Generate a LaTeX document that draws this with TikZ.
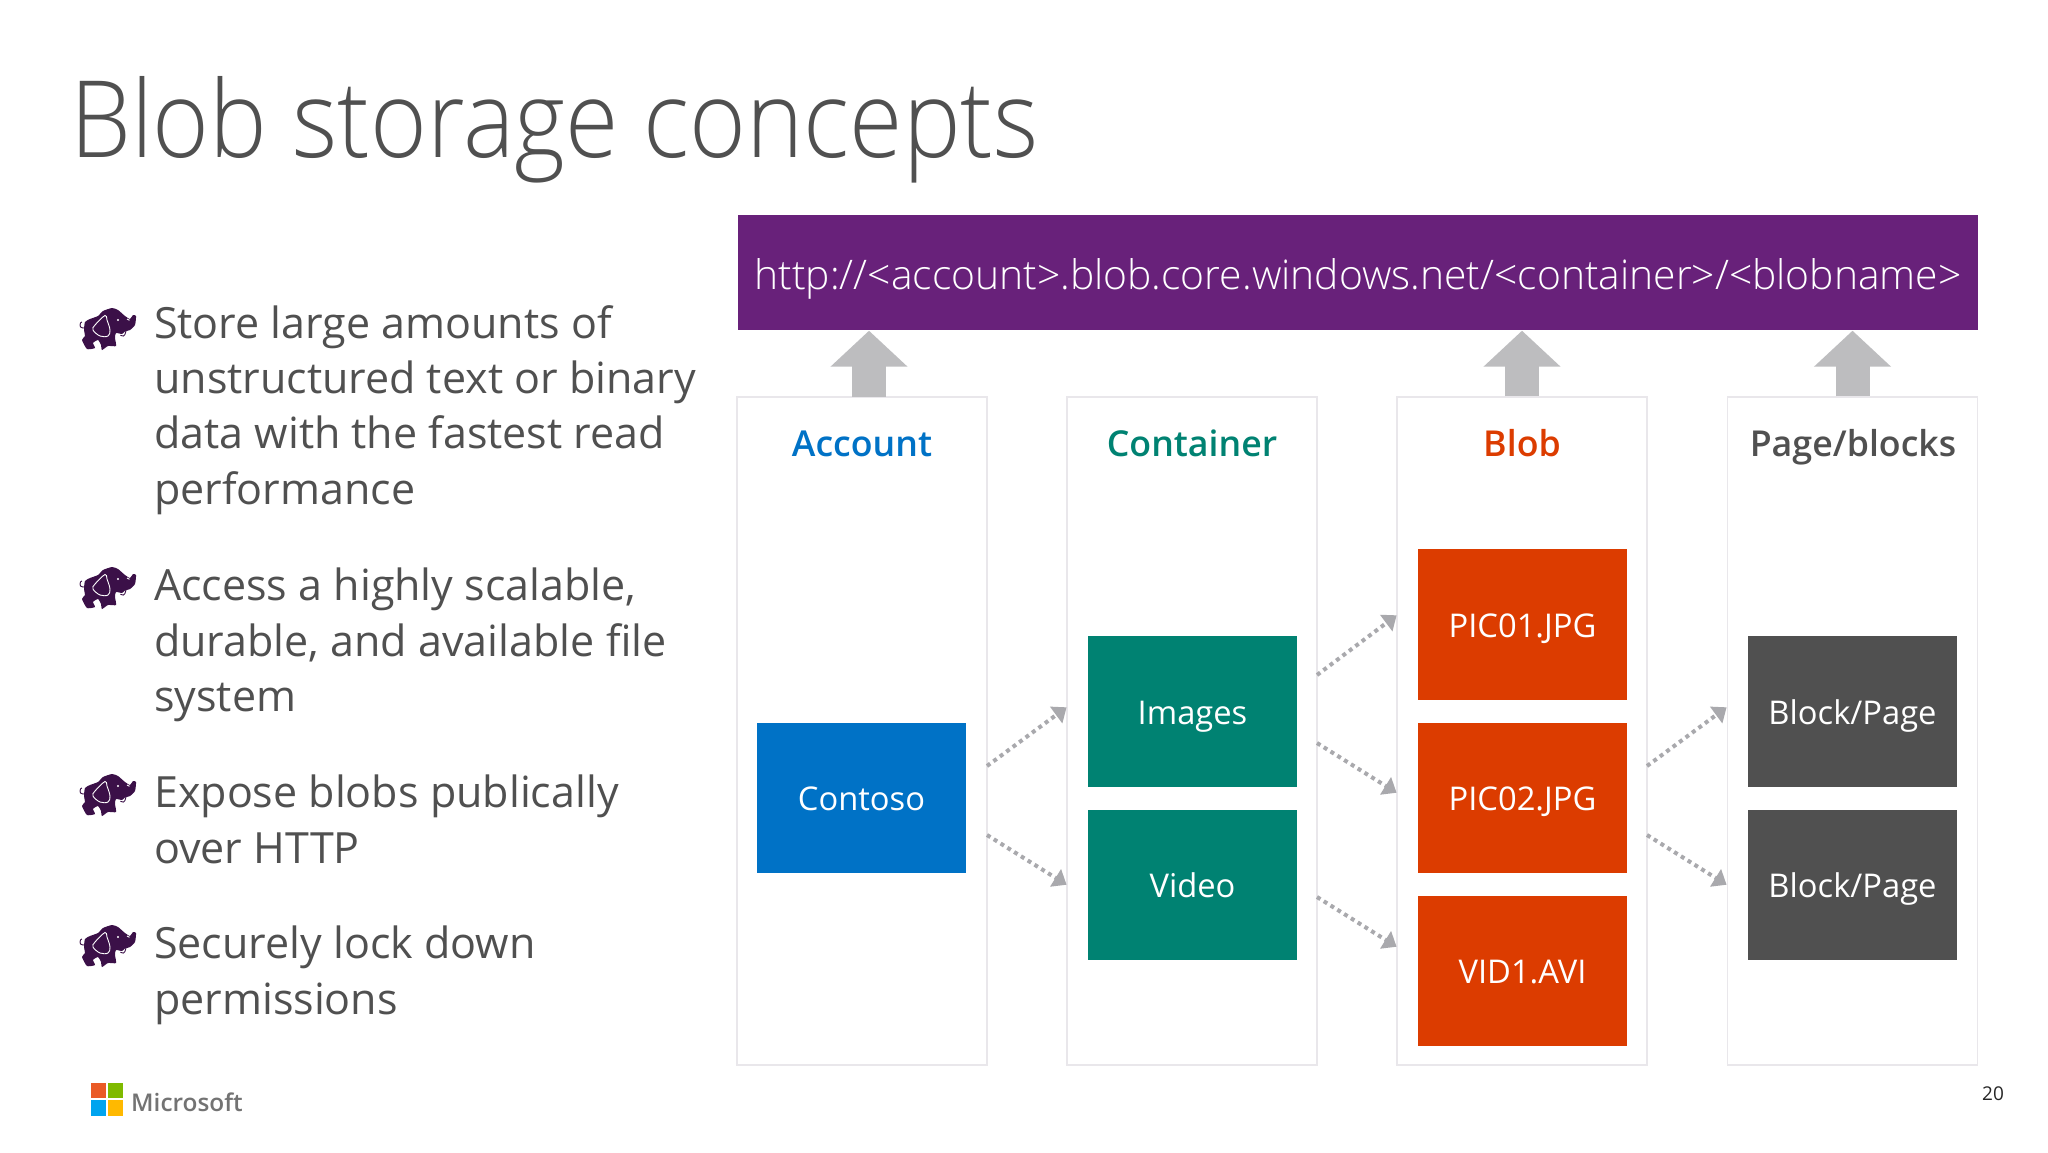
\documentclass[tikz,border=0pt]{standalone}
\usepackage{fontspec}
\usetikzlibrary{arrows.meta}
\setmainfont{Open Sans}
\newfontfamily\lightfont{Open Sans Light}
\newfontfamily\semifont{Open Sans Semibold}
\definecolor{urlPurple}{HTML}{68217A}
\definecolor{accountBlue}{HTML}{0072C6}
\definecolor{containerTeal}{HTML}{008272}
\definecolor{blobOrange}{HTML}{DC3C00}
\definecolor{blockGrey}{HTML}{505050}
\definecolor{textGrey}{HTML}{505050}
\definecolor{panelEdge}{HTML}{E9E7EB}
\definecolor{upGrey}{HTML}{BDBDBF}
\definecolor{dotGrey}{HTML}{A9A9AD}
\definecolor{elephantPurple}{HTML}{3B1048}
\definecolor{logoRed}{HTML}{EA5A26}
\definecolor{logoGreen}{HTML}{7FBA00}
\definecolor{logoBlue}{HTML}{00A4EF}
\definecolor{logoYellow}{HTML}{FFB900}
\tikzset{
    elephant/.pic={
        \draw[elephantPurple, line width=0.9pt] plot[smooth, tension=0.7] coordinates {
            (4,20) (0.5,19) (0.5,15) (2.5,14)};
        \fill[elephantPurple] plot[smooth cycle, tension=0.35] coordinates {
            (5,14) (10,11) (18,8) (23,3) (32,0) (38,2) (45,8) (50,11) (53,7)
            (56,8) (55,17) (50,22) (45,23.5) (42,26) (36,25) (35,30) (36,38)
            (28,38) (22,42) (21,37) (18,32) (13,35) (15,40) (7,41) (2,32)
            (5,28) (4,22)};
        \draw[elephantPurple, line width=0.9pt] (46,23) .. controls (45,29) and (42,29) .. (40,27);
        \draw[white, line width=0.9pt] plot[smooth cycle, tension=0.6] coordinates {
            (25,7.5) (15,17) (13,22) (20,28) (28,28) (30,22) (27,12)};
        \fill[white] (38,12) circle (1.1);
        \draw[white, line width=0.9pt] (47,11) -- (50,12.5);
    }
}
\begin{document}
\begin{tikzpicture}[x=1pt, y=-1pt, shorten >=0.5pt]
    \tikzstyle{panelStyle} = [draw=panelEdge, fill=white, line width=1.3pt, minimum width=250pt, minimum height=668pt, inner sep=0pt]
    \tikzstyle{itemStyle} = [minimum width=209pt, minimum height=150.5pt, inner sep=0pt, text=white, text height=25pt, text depth=0pt, font=\fontsize{32.7}{38}\selectfont]
    \tikzstyle{headStyle} = [anchor=base, inner sep=0pt, font=\semifont\fontsize{35.7}{42}\selectfont]
    \tikzstyle{bodyStyle} = [anchor=north west, inner sep=0pt, align=left, text=textGrey, font=\fontsize{43}{55.4}\selectfont]
    \tikzstyle{upArrow} = [draw=upGrey, line width=34pt, -{Triangle[width=75pt, length=36pt, fill=upGrey]}]
    \tikzstyle{dotArrow} = [draw=dotGrey, line width=4pt, dash pattern=on 4pt off 4pt, -{Triangle[width=20pt, length=13pt, fill=dotGrey]}]
    \useasboundingbox (0,0) rectangle (2048,1152);
    \fill[white] (0,0) rectangle (2048,1152);
    % title and text on the left
    \node[anchor=base west, inner sep=0pt, text=textGrey, font=\lightfont\fontsize{97}{110}\selectfont] (title) at (70,157) {\scalebox{1}[1.1]{Blob storage concepts}};
    \node[bodyStyle] (item1) at (154,305) {Store large amounts of\\unstructured text or binary\\data with the fastest read\\performance};
    \node[bodyStyle] (item2) at (154,568) {Access a highly scalable,\\durable, and available file\\system};
    \node[bodyStyle] (item3) at (154,775) {Expose blobs publically\\over HTTP};
    \node[bodyStyle] (item4) at (154,926) {Securely lock down\\permissions};
    \pic at (80,308) {elephant};
    \pic at (80,567) {elephant};
    \pic at (80,774) {elephant};
    \pic at (80,925) {elephant};
    % panels
    \node[panelStyle] (accountPanel) at (862,731) {};
    \node[panelStyle] (containerPanel) at (1192,731) {};
    \node[panelStyle] (blobPanel) at (1522,731) {};
    \node[panelStyle] (pagePanel) at (1852.5,731) {};
    \node[minimum width=1240pt, minimum height=115pt, inner sep=0pt, fill=urlPurple, text=white, text height=33pt, text depth=0pt, font=\lightfont\fontsize{40.8}{48}\selectfont] (url) at (1358,272.5) {http://<account>.blob.core.windows.net/<container>/<blobname>};
    \coordinate (accountFoot) at (869,397);
    \draw[upArrow] (accountFoot) -- (url.south -| accountFoot);
    \draw[upArrow] (blobPanel.north) -- (url.south -| blobPanel.north);
    \draw[upArrow] (pagePanel.north) -- (url.south -| pagePanel.north);
    \node[headStyle, text=accountBlue] (accountHead) at (862,456) {Account};
    \node[headStyle, text=containerTeal] (containerHead) at (1192,456) {Container};
    \node[headStyle, text=blobOrange] (blobHead) at (1522,456) {Blob};
    \node[headStyle, text=textGrey] (pageHead) at (1853,456) {Page/blocks};
    % boxes
    \node[itemStyle, fill=accountBlue] (contoso) at (861.5,798) {Contoso};
    \node[itemStyle, fill=containerTeal] (images) at (1192.5,711.5) {Images};
    \node[itemStyle, fill=containerTeal] (video) at (1192.5,885) {Video};
    \node[itemStyle, fill=blobOrange] (pic1) at (1522.5,624.5) {PIC01.JPG};
    \node[itemStyle, fill=blobOrange] (pic2) at (1522.5,798) {PIC02.JPG};
    \node[itemStyle, fill=blobOrange] (vid1) at (1522.5,971) {VID1.AVI};
    \node[itemStyle, fill=blockGrey] (block1) at (1852.5,711.5) {Block/Page};
    \node[itemStyle, fill=blockGrey] (block2) at (1852.5,885) {Block/Page};
    % dotted arrows between the panels
    \coordinate (a1) at (987,766);
    \coordinate (a2) at (987,835);
    \coordinate (c1) at (1067,707);
    \coordinate (c2) at (1067,885);
    \coordinate (c3) at (1317,675);
    \coordinate (c4) at (1317,743);
    \coordinate (c5) at (1317,897);
    \coordinate (b1) at (1397,615);
    \coordinate (b2) at (1397,793);
    \coordinate (b3) at (1397,947);
    \coordinate (b4) at (1647,766);
    \coordinate (b5) at (1647,835);
    \coordinate (p1) at (1727,707);
    \coordinate (p2) at (1727,885);
    \foreach \from/\to in {a1/c1,a2/c2,c3/b1,c4/b2,c5/b3,b4/p1,b5/p2}
        \draw[dotArrow] (\from) -- (\to);
    % footer
    \fill[logoRed] (91,1083) rectangle (106,1098);
    \fill[logoGreen] (107.5,1083) rectangle (122.5,1098);
    \fill[logoBlue] (91,1100) rectangle (106,1116);
    \fill[logoYellow] (107.5,1100) rectangle (122.5,1116);
    \node[anchor=west, inner sep=0pt, text=black!55, font=\semifont\fontsize{24.4}{30}\selectfont] (microsoft) at (131,1102) {Microsoft};
    \node[anchor=base west, inner sep=0pt, text=black!85, font=\fontsize{19}{23}\selectfont] (pageNo) at (1982,1100) {20};
\end{tikzpicture}
\end{document}
